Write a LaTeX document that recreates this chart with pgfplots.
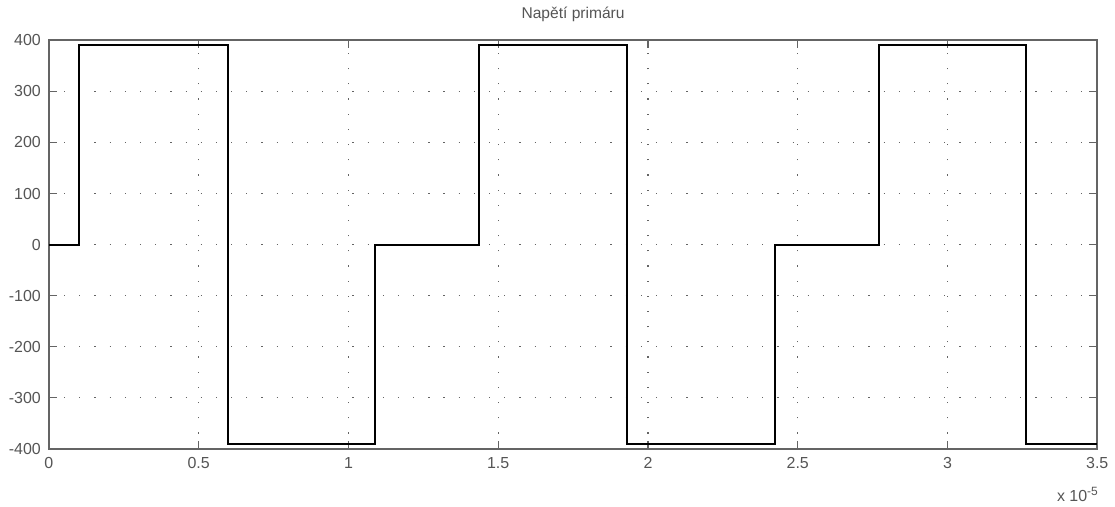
\documentclass[border=0pt]{standalone}
\usepackage{fontspec}
\setmainfont{Liberation Sans}
\usepackage{pgfplots}
\pgfplotsset{compat=1.18}
\definecolor{axgray}{RGB}{100,100,100}
\definecolor{txtgray}{RGB}{85,85,85}
\begin{document}
\begin{tikzpicture}
\begin{axis}[
  at={(0,0)}, anchor=south west,
  scale only axis,
  width=525pt, height=204.5pt,
  xmin=0, xmax=3.5, ymin=-400, ymax=400,
  xtick={0,0.5,...,3.5},
  ytick={-400,-300,...,400},
  xticklabels={0,0.5,1,1.5,2,2.5,3,3.5},
  tick align=inside,
  major tick length=4pt,
  axis line style={axgray, line width=0.9pt},
  every tick/.style={axgray, line width=0.7pt},
  grid=major,
  major grid style={axgray, line width=0.6pt, dash pattern=on 0.6pt off 7pt},
  tick label style={font=\fontsize{8}{9.5}\selectfont, text=txtgray},
  /pgf/number format/assume math mode=true,
  yticklabel style={xshift=-0.5pt},
  xticklabel style={yshift=-1pt},
  title={Napětí primáru},
  title style={font=\fontsize{7.8}{9.5}\selectfont, text=txtgray, yshift=0pt},
  clip=false,
]
\addplot[black, line width=1pt, mark=none] coordinates {
 (0,0) (0.1,0) (0.1,390) (0.597,390) (0.597,-390) (1.09,-390)
 (1.09,0) (1.437,0) (1.437,390) (1.93,390) (1.93,-390) (2.423,-390)
 (2.423,0) (2.77,0) (2.77,390) (3.263,390) (3.263,-390) (3.5,-390)
};
\node[anchor=east, font=\fontsize{8}{9.5}\selectfont, text=txtgray, inner sep=0pt]
  at ([xshift=1pt, yshift=-23pt]rel axis cs:1,0) {x 10\textsuperscript{-5}};
\end{axis}
\useasboundingbox (-24.5pt,-29pt) rectangle (533pt,223.5pt);
\end{tikzpicture}
\end{document}
